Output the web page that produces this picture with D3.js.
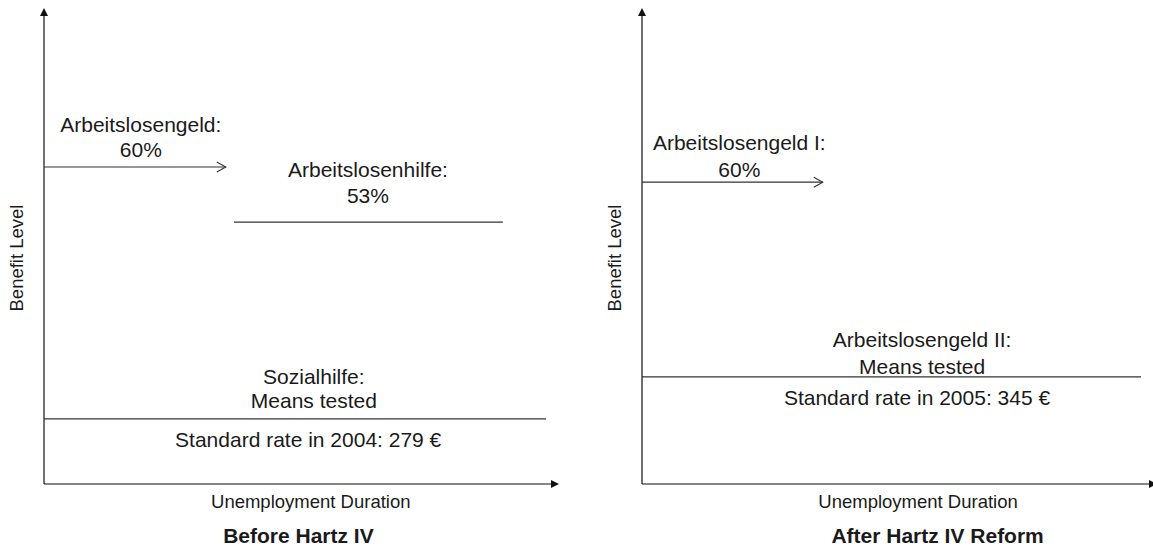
<!DOCTYPE html>
<html>
<head>
<meta charset="utf-8">
<script src="https://cdn.jsdelivr.net/npm/d3@7"></script>
<style>
  html, body { margin: 0; padding: 0; background: #fff; overflow: hidden; }
  svg text { font-family: "Liberation Sans", Arial, sans-serif; fill: #1a1a1a; }
</style>
</head>
<body>
<svg id="chart" width="1153" height="549"></svg>
<script>
// panels
const panelTitles = ["Before Hartz IV", "After Hartz IV Reform"];
const xAxisLabel = "Unemployment Duration";
const yAxisLabel = "Benefit Level";

// benefit segments: duration from/to and benefit level (0-100, schematic)
const segPanel = [0, 0, 0, 1, 1];
const segStart = [0, 36.9, 0, 0, 0];
const segEnd = [35.3, 89.1, 97.5, 35.1, 96.9];
const segLevel = [66.6, 55.0, 13.7, 63.4, 22.5];
const segArrow = [true, false, false, true, false];

// labels over each segment, and the line under it (if any)
const segLabelAbove = [
  ["Arbeitslosengeld:", "60%"],
  ["Arbeitslosenhilfe:", "53%"],
  ["Sozialhilfe:", "Means tested"],
  ["Arbeitslosengeld I:", "60%"],
  ["Arbeitslosengeld II:", "Means tested"],
];
const segLabelBelow = [null, null, "Standard rate in 2004: 279 €", null, "Standard rate in 2005: 345 €"];

// ---- layout (pixels) ----
const panelX = [44, 642];
const originY = 484;
const topY = 8;
const axisLen = 515;
// label centre (duration units) and baseline offsets from the segment
const labelCenter = [18.8, 62.9, 52.4, 18.9, 54.4];
const belowCenter = [null, null, 51.3, null, 53.4];
const aboveOffsets = [[-35, -10], [-45, -19], [-35, -11], [-32, -5], [-30, -3]];
const belowOffset = 28;
const xLabelAt = [51.8, 53.6];
const titleAt = [49.4, 57.4];

const svg = d3.select("#chart");

const x = d3.scaleLinear().domain([0, 100]).range([0, axisLen]);
const y = d3.scaleLinear().domain([0, 100]).range([originY, topY]);

const lineColor = "#333";

const panels = svg.selectAll("g.panel")
  .data(panelTitles)
  .join("g")
  .attr("class", "panel")
  .attr("transform", (d, i) => `translate(${panelX[i]},0)`);

// axes with filled arrowheads
panels.append("line")
  .attr("x1", 0).attr("x2", 0)
  .attr("y1", y(0)).attr("y2", y(100) + 7)
  .attr("stroke", "#111").attr("stroke-width", 1.2);
panels.append("path")
  .attr("d", `M0,${y(100)} L-4,${y(100) + 8} L4,${y(100) + 8} Z`)
  .attr("fill", "#111");

panels.append("line")
  .attr("x1", 0).attr("x2", x(100) - 7)
  .attr("y1", y(0)).attr("y2", y(0))
  .attr("stroke", "#111").attr("stroke-width", 1.2);
panels.append("path")
  .attr("d", `M${x(100)},${y(0)} L${x(100) - 8},${y(0) - 4} L${x(100) - 8},${y(0) + 4} Z`)
  .attr("fill", "#111");

// axis titles
panels.append("text")
  .attr("x", (d, i) => x(xLabelAt[i]))
  .attr("y", 508)
  .attr("text-anchor", "middle")
  .attr("font-size", 18.5)
  .text(xAxisLabel);

panels.append("text")
  .attr("transform", `translate(-21,${(y(0) + y(100)) / 2 + 12}) rotate(-90)`)
  .attr("text-anchor", "middle")
  .attr("font-size", 18.5)
  .text(yAxisLabel);

panels.append("text")
  .attr("x", (d, i) => x(titleAt[i]))
  .attr("y", 543)
  .attr("text-anchor", "middle")
  .attr("font-size", 21)
  .attr("font-weight", "bold")
  .text((d) => d);

// segments
const segs = segPanel.map((p, i) => ({
  panel: p,
  start: segStart[i],
  end: segEnd[i],
  level: segLevel[i],
  arrow: segArrow[i],
  above: segLabelAbove[i],
  below: segLabelBelow[i],
  i,
}));

panels.each(function (title, pi) {
  const g = d3.select(this);
  const data = segs.filter((s) => s.panel === pi);

  g.selectAll("line.seg")
    .data(data)
    .join("line")
    .attr("class", "seg")
    .attr("x1", (d) => x(d.start))
    .attr("x2", (d) => x(d.end))
    .attr("y1", (d) => y(d.level))
    .attr("y2", (d) => y(d.level))
    .attr("stroke", lineColor)
    .attr("stroke-width", 1.2);

  g.selectAll("path.head")
    .data(data.filter((d) => d.arrow))
    .join("path")
    .attr("class", "head")
    .attr("d", (d) => {
      const tx = x(d.end), ty = y(d.level);
      return `M${tx - 9},${ty - 5} L${tx},${ty} L${tx - 9},${ty + 5}`;
    })
    .attr("fill", "none")
    .attr("stroke", lineColor)
    .attr("stroke-width", 1.1);

  data.forEach((d) => {
    d.above.forEach((txt, k) => {
      g.append("text")
        .attr("x", x(labelCenter[d.i]))
        .attr("y", y(d.level) + aboveOffsets[d.i][k])
        .attr("text-anchor", "middle")
        .attr("font-size", 21)
        .text(txt);
    });
    if (d.below) {
      g.append("text")
        .attr("x", x(belowCenter[d.i]))
        .attr("y", y(d.level) + belowOffset)
        .attr("text-anchor", "middle")
        .attr("font-size", 21)
        .text(d.below);
    }
  });
});
</script>
</body>
</html>
